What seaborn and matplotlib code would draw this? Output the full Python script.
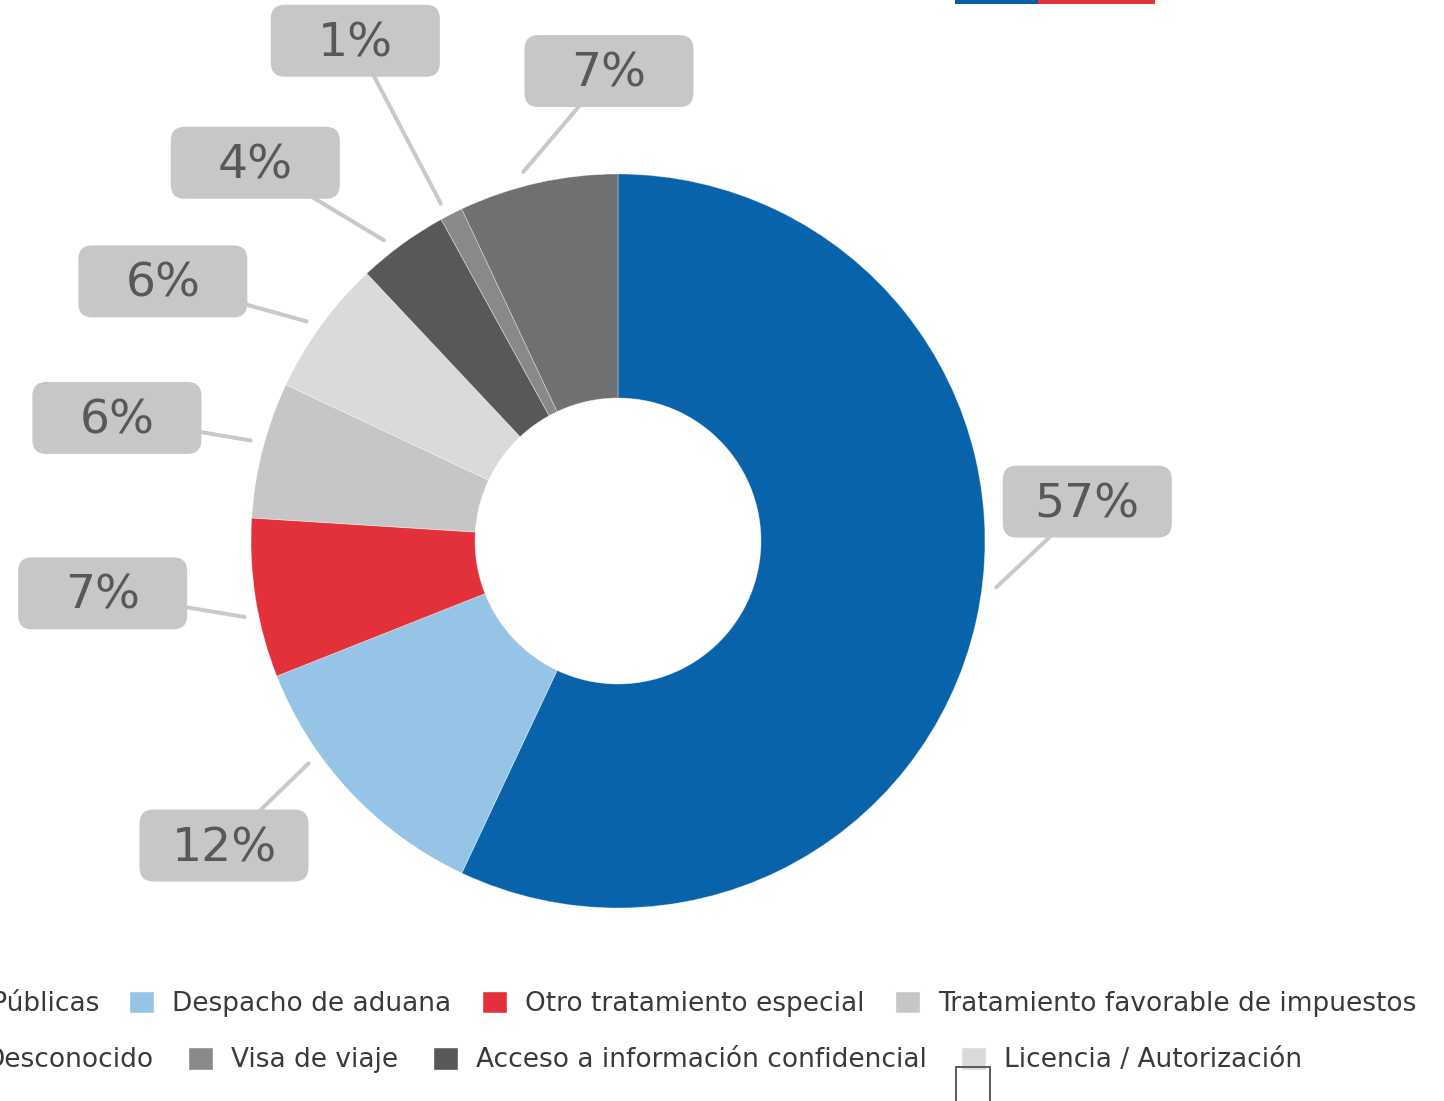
import numpy as np
import seaborn as sns
import matplotlib.pyplot as plt
from matplotlib.patches import FancyBboxPatch, Rectangle, Patch

sns.set_theme(style='white')
plt.rcParams['font.family'] = ['DejaVu Sans']

# datos (en sentido horario desde arriba)
categorias = ['Compras Públicas', 'Despacho de aduana', 'Otro tratamiento especial',
              'Tratamiento favorable de impuestos', 'Licencia / Autorización',
              'Acceso a información confidencial', 'Visa de viaje', 'Desconocido']
porcentajes = [57, 12, 7, 6, 6, 4, 1, 7]
colores = ['#0863aa', '#95c4e6', '#e2313b', '#c5c6c8', '#d9dadc',
           '#58585a', '#88898b', '#6f7072']

# orden de la leyenda, por filas
fila1 = [0, 1, 2, 3]
fila2 = [7, 6, 5, 4]

# ajuste de las etiquetas (grados respecto al centro del sector, distancia en px)
ajuste_ang = [17.4, -5.5, -3.2, 0.6, 6.3, 7.8, 0.7, -11.5]
ajuste_con = [5.6, -7.5, 2.5, -0.9, 0.8, 1.9, 0.7, 1.8]
dist_etiq = [471, 498, 518, 516, 524, 524, 565, 470]

W, H = 1444, 1101
fig = plt.figure(figsize=(W / 100, H / 100), dpi=100)
ax = fig.add_axes([0, 0, 1, 1])

centro = (618, H - 541)
R_ext, R_int = 367, 143

wedges, _ = ax.pie(porcentajes, colors=colores, startangle=90, counterclock=False,
                   radius=R_ext, center=centro,
                   wedgeprops=dict(width=R_ext - R_int, edgecolor=(1, 1, 1, 0.4), linewidth=0.6))
ax.set_xlim(0, W)
ax.set_ylim(0, H)
ax.set_aspect('equal')
ax.axis('off')

# etiquetas con conector
bw, bh = 169, 72
for i, w in enumerate(wedges):
    mid = (w.theta1 + w.theta2) / 2
    a0 = np.deg2rad(mid + ajuste_con[i])
    ang = np.deg2rad(mid + ajuste_ang[i])
    x0 = centro[0] + (R_ext + 14) * np.cos(a0)
    y0 = centro[1] + (R_ext + 14) * np.sin(a0)
    cx = centro[0] + dist_etiq[i] * np.cos(ang)
    cy = centro[1] + dist_etiq[i] * np.sin(ang)
    ax.plot([x0, cx], [y0, cy], color='#c8c9cb', lw=2.9, solid_capstyle='round', zorder=2)
    caja = FancyBboxPatch((cx - bw / 2, cy - bh / 2), bw, bh,
                          boxstyle='round,pad=0,rounding_size=14',
                          facecolor='#c6c7c9', edgecolor='none', zorder=3)
    ax.add_patch(caja)
    ax.text(cx, cy - 3, f'{porcentajes[i]}%', ha='center', va='center',
            fontsize=34, color='#58585a', zorder=4)

# leyenda en dos filas
ley_kw = dict(frameon=False, fontsize=19, handlelength=0.95, handleheight=0.95,
              handletextpad=0.68, borderpad=0, borderaxespad=0,
              labelcolor='#3a3a3a', ncol=4)
h1 = [Patch(facecolor=colores[i], label=categorias[i]) for i in fila1]
h2 = [Patch(facecolor=colores[i], label=categorias[i]) for i in fila2]
fig.legend(handles=h1, loc='center right', bbox_to_anchor=(1416 / W, (H - 1003) / H),
           columnspacing=1.15, **ley_kw)
fig.legend(handles=h2, loc='center right', bbox_to_anchor=(1302 / W, (H - 1060) / H),
           columnspacing=1.3, **ley_kw)

# franja del logo arriba y recuadro abajo
ax.add_patch(Rectangle((955, H - 4), 83, 6, facecolor='#0a5ca8', edgecolor='none', clip_on=False))
ax.add_patch(Rectangle((1038, H - 4), 117, 6, facecolor='#e2333c', edgecolor='none', clip_on=False))
fig.add_artist(Rectangle((956 / W, -0.01), 34 / W, (H - 1067) / H + 0.01,
                         transform=fig.transFigure, facecolor='none',
                         edgecolor='#5a5a5a', lw=1.4, zorder=10))

fig.savefig('out.png', dpi=100, facecolor='white')
